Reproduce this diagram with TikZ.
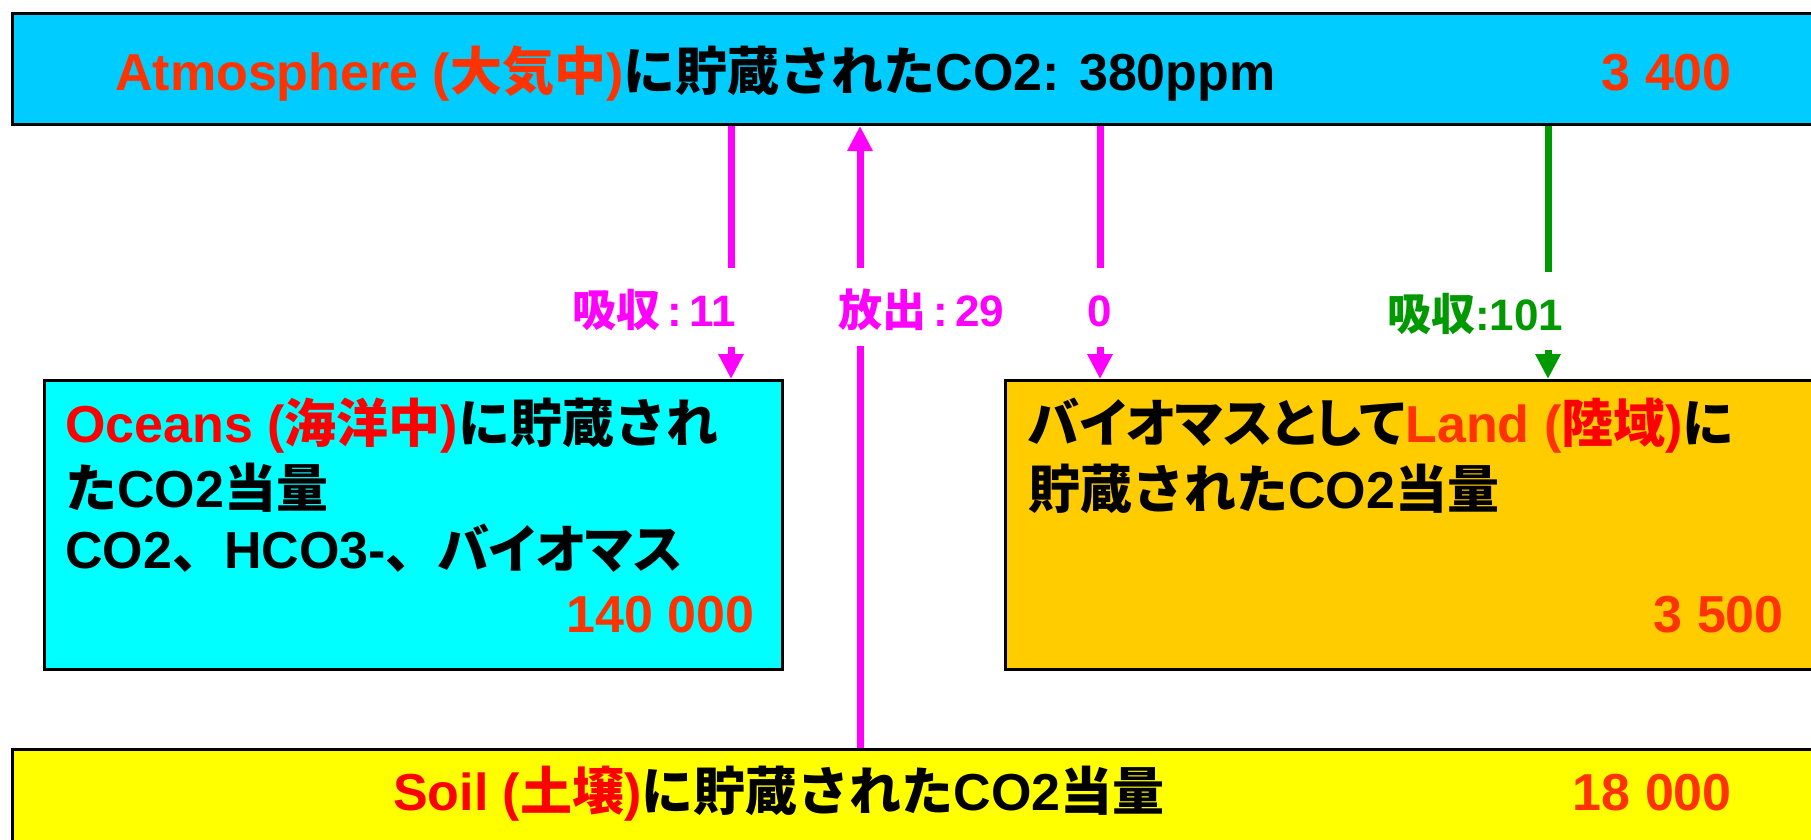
\documentclass[tikz,border=0pt]{standalone}
\usepackage{fontspec}
\setmainfont{Liberation Sans}
\newfontfamily\jpfont{Noto Sans CJK JP}
\newfontfamily\jppfont{Noto Sans CJK JP}[RawFeature=+palt]
\newcommand{\jtxt}[1]{{\jpfont #1}}
\newcommand{\jptxt}[1]{{\jppfont #1}}
\usetikzlibrary{arrows.meta}
\definecolor{atmc}{HTML}{00CCFF}
\definecolor{occ}{HTML}{00FFFF}
\definecolor{landc}{HTML}{FFCC00}
\definecolor{soilc}{HTML}{FFFF00}
\definecolor{mag}{HTML}{FF00FF}
\definecolor{grn}{HTML}{009900}
\definecolor{ored}{HTML}{FF3300}
\definecolor{rd}{HTML}{FF0000}
\tikzset{
  box/.style={draw=black, line width=3pt, inner sep=0pt, anchor=north west},
  big/.style={inner sep=0pt, text height=40pt, text depth=8pt, font=\fontsize{52}{63}\selectfont\bfseries},
  lbl/.style={inner sep=0pt, text height=34pt, text depth=6pt, font=\fontsize{44}{50}\selectfont\bfseries},
  magline/.style={draw=mag, line width=7pt},
  grnline/.style={draw=grn, line width=7pt},
  tip/.style={-{Triangle[width=24pt,length=25pt]}},
}
\begin{document}
\begin{tikzpicture}[x=1pt,y=-1pt]
\useasboundingbox (0,0) rectangle (1811,839);
\clip (0,0) rectangle (1811,839);
% boxes
\node[box, fill=atmc, minimum width=1820pt, minimum height=111pt] (atm) at (11,12) {};
\node[box, fill=occ, minimum width=738pt, minimum height=289pt] (oc) at (43,379) {};
\node[box, fill=landc, minimum width=830pt, minimum height=289pt] (land) at (1004,379) {};
\node[box, fill=soilc, minimum width=1820pt, minimum height=150pt] (soil) at (11,748) {};
% texts
\node[big, anchor=base west] (atmt) at (115,90) {{\color{ored}Atmosphere (\jtxt{大気中})}\jtxt{に貯蔵された}CO2: 380ppm};
\node[big, anchor=base east, text=ored] (atmn) at (1732,90) {3 400};
\node[big, anchor=base west] (oc1) at (65,442) {{\color{rd}Oceans (\jtxt{海洋中})}\jtxt{に貯蔵され}};
\node[big, anchor=base west] (oc2) at (65,507) {\jtxt{た}CO2\jtxt{当量}};
\node[big, anchor=base west] (oc3) at (65,568) {CO2\jtxt{、}HCO3-\jtxt{、}\jptxt{バイオマス}};
\node[big, anchor=base east, text=ored] (ocn) at (755,632) {140 000};
\node[big, anchor=base west] (la1) at (1028,442) {\jptxt{バイオマスとして}{\color{ored}Land (}{\color{rd}\jtxt{陸域})}\jtxt{に}};
\node[big, anchor=base west] (la2) at (1028,508) {\jtxt{貯蔵された}CO2\jtxt{当量}};
\node[big, anchor=base east, text=ored] (lan) at (1784,632) {3 500};
\node[big, anchor=base west] (soilt) at (393,810) {{\color{rd}Soil (\jtxt{土壌})}\jtxt{に貯蔵された}CO2\jtxt{当量}};
\node[big, anchor=base east, text=ored] (soiln) at (1732,810) {18 000};
% labels
\node[lbl, anchor=base west, text=mag] (l1) at (572,326) {\jtxt{吸収}\,:\,11};
\node[lbl, anchor=base west, text=mag] (l2) at (838,326) {\jtxt{放出}\,:\,29};
\node[lbl, anchor=base, text=mag] (l3) at (1100,326) {0};
\node[lbl, anchor=base west, text=grn] (l4) at (1387,330) {\jtxt{吸収}:101};
% arrow coordinates
\coordinate (a1u) at (731,268);
\coordinate (a1l) at (731,347);
\coordinate (a2u) at (860,268);
\coordinate (a2l) at (860,346);
\coordinate (a3u) at (1100,268);
\coordinate (a3l) at (1100,347);
\coordinate (a4u) at (1548,272);
\coordinate (a4l) at (1548,350);
% arrows
\draw[magline] (a1u |- atm.south) -- (a1u);
\draw[magline, tip] (a1l) -- (a1l |- oc.north);
\draw[magline, tip] (a2u) -- (a2u |- atm.south);
\draw[magline] (a2l) -- (a2l |- soil.north);
\draw[magline] (a3u |- atm.south) -- (a3u);
\draw[magline, tip] (a3l) -- (a3l |- land.north);
\draw[grnline] (a4u |- atm.south) -- (a4u);
\draw[grnline, tip] (a4l) -- (a4l |- land.north);
\end{tikzpicture}
\end{document}
